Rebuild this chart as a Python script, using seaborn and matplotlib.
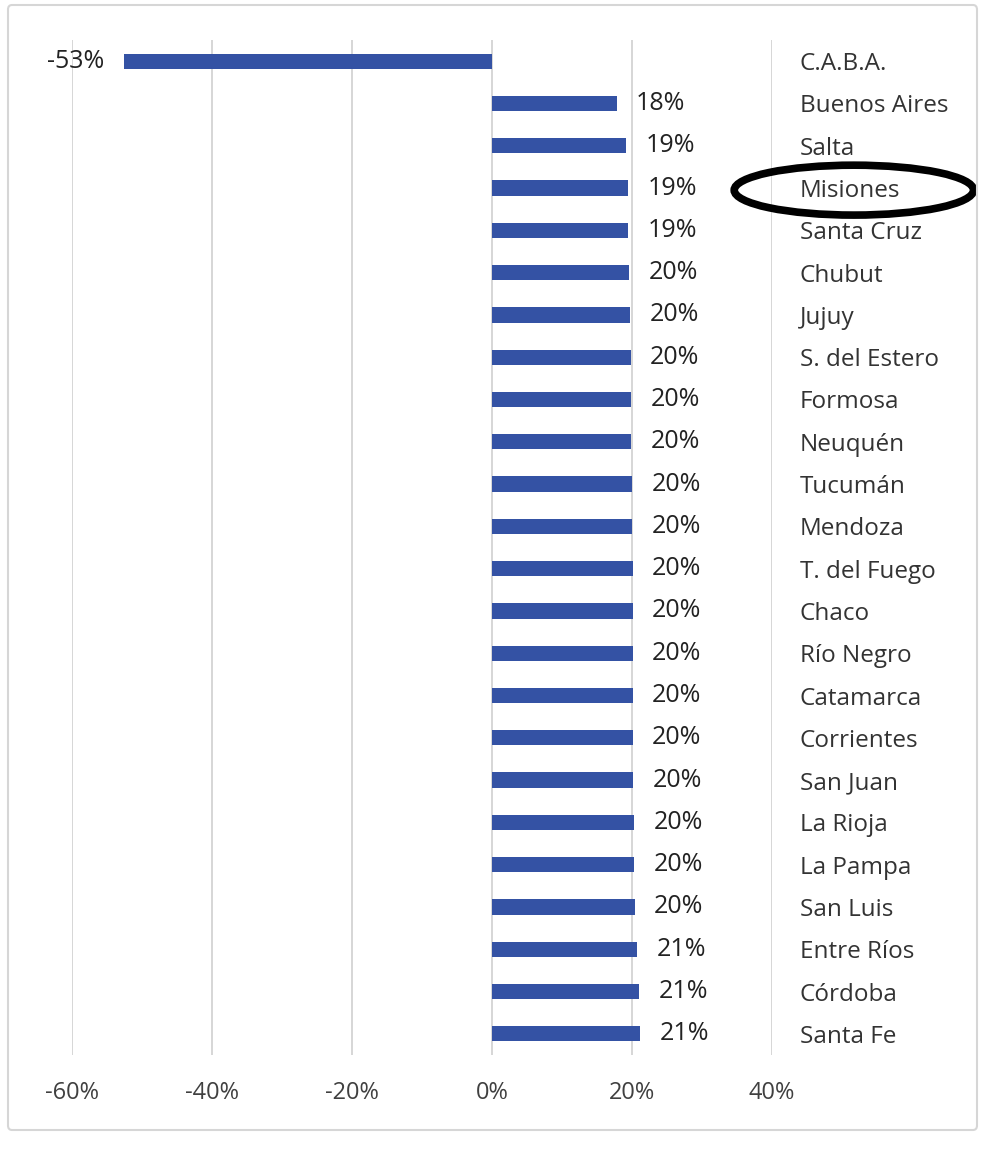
import matplotlib
matplotlib.use("Agg")
import matplotlib.pyplot as plt
import seaborn as sns
import pandas as pd
from matplotlib.patches import Ellipse, FancyBboxPatch
from matplotlib.ticker import PercentFormatter

provinces = ["C.A.B.A.", "Buenos Aires", "Salta", "Misiones", "Santa Cruz", "Chubut",
             "Jujuy", "S. del Estero", "Formosa", "Neuquén", "Tucumán", "Mendoza",
             "T. del Fuego", "Chaco", "Río Negro", "Catamarca", "Corrientes", "San Juan",
             "La Rioja", "La Pampa", "San Luis", "Entre Ríos", "Córdoba", "Santa Fe"]
values = [-0.526, 0.178, 0.192, 0.194, 0.1945, 0.196,
          0.197, 0.198, 0.199, 0.199, 0.200, 0.200,
          0.201, 0.201, 0.201, 0.201, 0.201, 0.202,
          0.203, 0.203, 0.204, 0.207, 0.210, 0.212]
x_ticks = [-0.6, -0.4, -0.2, 0.0, 0.2, 0.4]
highlight = "Misiones"

df = pd.DataFrame({"province": provinces, "value": values})

sns.set_theme(style="white")
plt.rcParams["font.family"] = ["Open Sans", "DejaVu Sans"]
plt.rcParams["axes.unicode_minus"] = False

fig = plt.figure(figsize=(10, 11.54), dpi=100)
ax = fig.add_axes([0.072, 1 - 1055 / 1154, 0.700, (1055 - 40) / 1154])

sns.barplot(data=df, y="province", x="value", orient="h", color="#3452A4",
            saturation=1, width=0.36, linewidth=0, ax=ax)

ax.set_xlim(-0.6, 0.4)
ax.set_ylim(len(provinces) - 0.5, -0.5)
ax.set_xticks(x_ticks)
ax.xaxis.set_major_formatter(PercentFormatter(1.0, decimals=0))
ax.set_xlabel("")
ax.set_ylabel("")
ax.set_axisbelow(True)
ax.xaxis.grid(True, color="#d0d0d0", lw=1.2)
ax.yaxis.grid(False)
for s in ax.spines.values():
    s.set_visible(False)

ax.yaxis.tick_right()
ax.tick_params(axis="y", length=0, pad=20, labelsize=17.5, labelcolor="#333333")
ax.tick_params(axis="x", length=0, pad=19, labelsize=17, labelcolor="#404040")
for t in ax.get_yticklabels() + ax.get_xticklabels():
    t.set_fontweight(500)

ax.bar_label(ax.containers[0], labels=[f"{round(v * 100):d}%" for v in values],
             padding=14, fontsize=18, color="#222222", fontweight=500)

# Highlight ellipse around a province label
idx = provinces.index(highlight)
ell = Ellipse((0.517, idx + 0.05), width=0.342, height=1.18, fill=False,
              edgecolor="black", lw=5.5, clip_on=False)
ax.add_patch(ell)

# Outer frame
frame = FancyBboxPatch((0.008, 1 - 1130 / 1154), 0.969, 1125 / 1154,
                       boxstyle="round,pad=0,rounding_size=0.004",
                       transform=fig.transFigure, fill=False,
                       edgecolor="#d6d6d6", lw=1.5)
fig.patches.append(frame)

fig.savefig("out.png", dpi=100, facecolor="white")
